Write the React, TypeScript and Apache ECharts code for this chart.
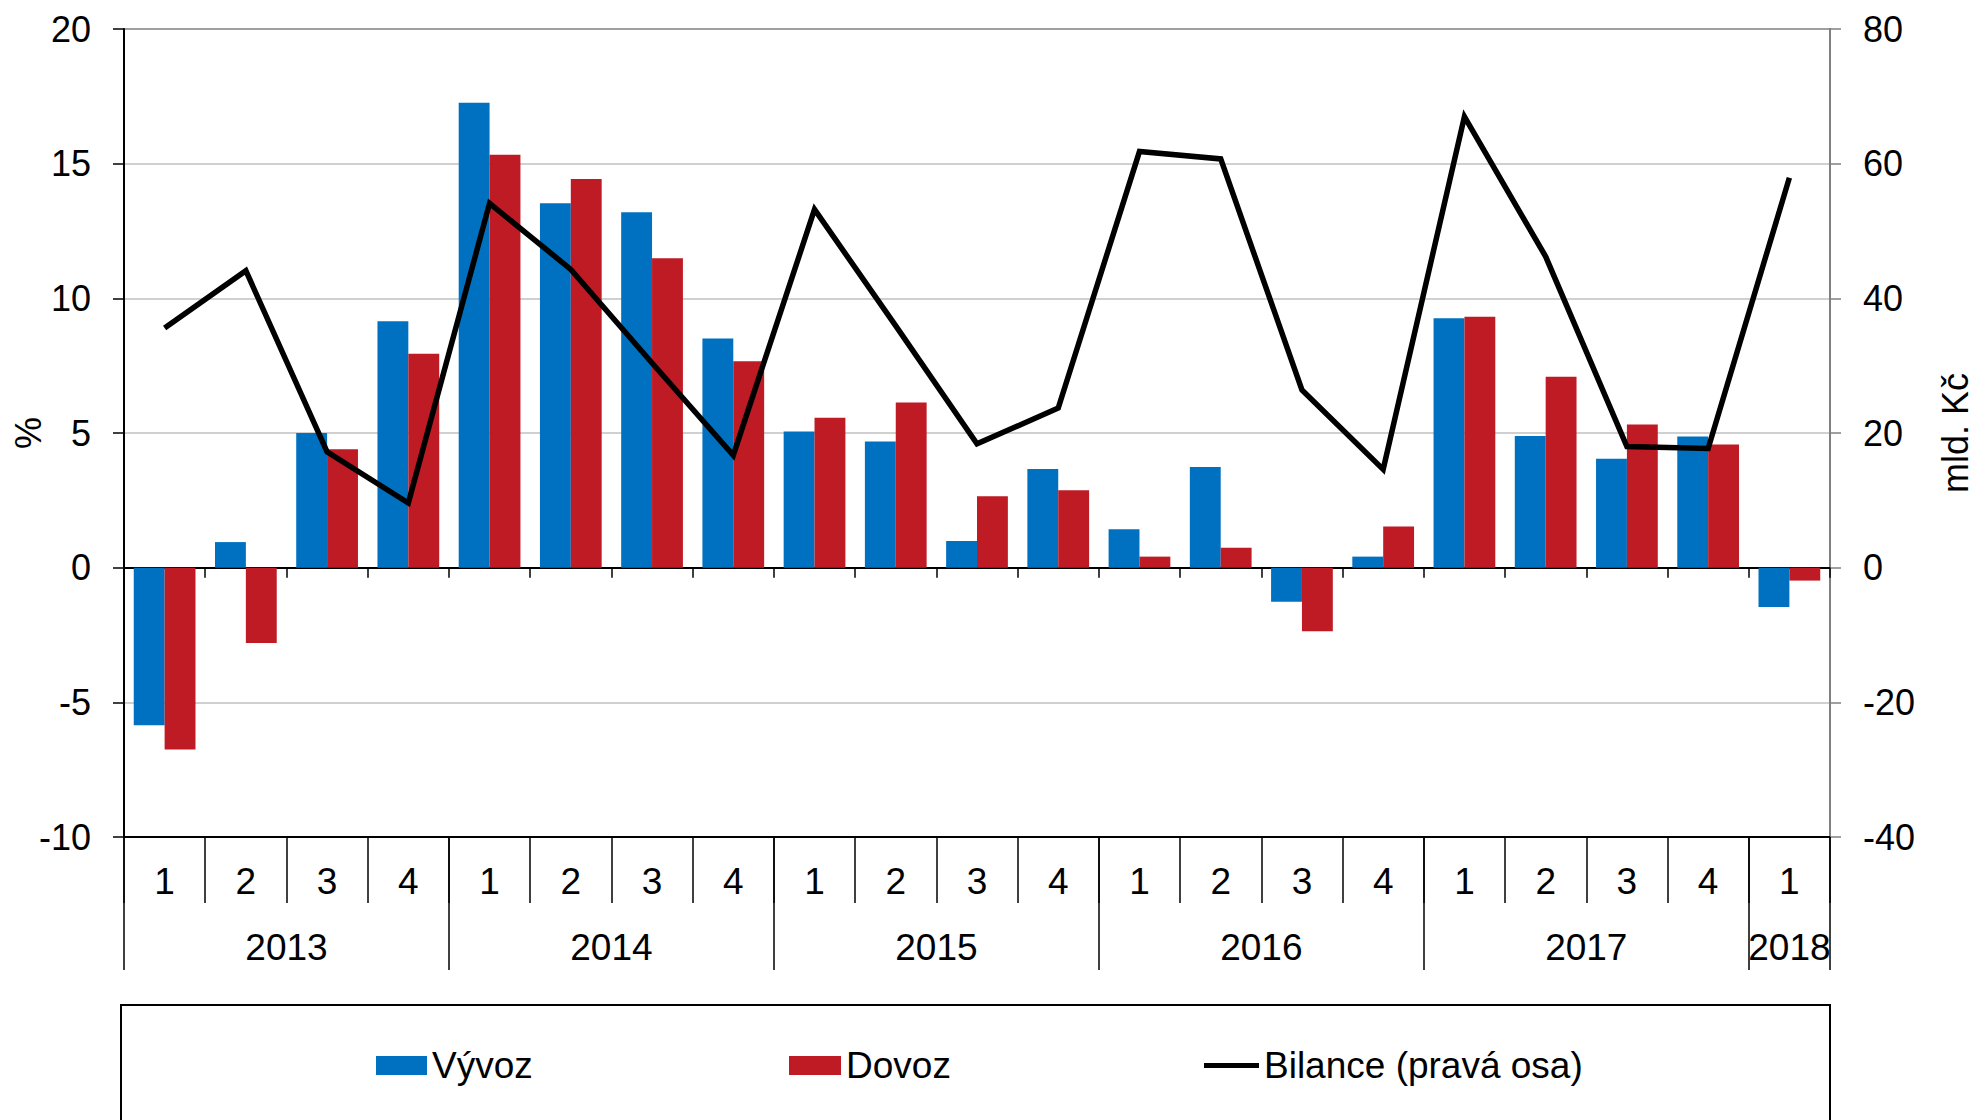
import React, { useEffect, useRef } from 'react';
import * as echarts from 'echarts';

const years = ['2013', '2014', '2015', '2016', '2017', '2018'];
const quartersPerYear = [4, 4, 4, 4, 4, 1];
const quarterLabels = ['1', '2', '3', '4'];

const vyvoz = [-5.85, 0.95, 5.0, 9.15, 17.26, 13.53, 13.2, 8.51, 5.06, 4.68, 0.99, 3.66, 1.43, 3.74, -1.27, 0.41, 9.26, 4.89, 4.04, 4.87, -1.46];
const dovoz = [-6.75, -2.8, 4.4, 7.94, 15.33, 14.43, 11.49, 7.66, 5.57, 6.13, 2.65, 2.87, 0.41, 0.74, -2.36, 1.53, 9.32, 7.09, 5.32, 4.57, -0.48];
const bilance = [35.6, 44.1, 17.2, 9.6, 54.1, 44.3, 30.4, 16.7, 53.2, 35.9, 18.4, 23.7, 61.8, 60.7, 26.4, 14.6, 67.0, 46.2, 18.0, 17.7, 57.9];

const leftAxis = { min: -10, max: 20, interval: 5, name: '%' };
const rightAxis = { min: -40, max: 80, interval: 20, name: 'mld. Kč' };

const seriesNames = ['Vývoz', 'Dovoz', 'Bilance (pravá osa)'];

const FONT = "'Liberation Sans', Arial, sans-serif";

export default function App() {
  const ref = useRef<HTMLDivElement>(null);
  useEffect(() => {
    const chart = echarts.init(ref.current!, null, { renderer: 'svg' });

    const categories: string[] = [];
    years.forEach((y, i) => {
      for (let q = 0; q < quartersPerYear[i]; q++) categories.push(y + ' ' + quarterLabels[q]);
    });
    const total = categories.length;
    const yearStarts: number[] = [];
    const yearCenters: Record<number, string> = {};
    let acc = 0;
    years.forEach((y, i) => {
      yearStarts.push(acc);
      yearCenters[Math.round((acc + quartersPerYear[i] / 2) * 2)] = y;
      acc += quartersPerYear[i];
    });

    const txt = { color: '#000', fontFamily: FONT, fontSize: 36 };
    const txt37 = { color: '#000', fontFamily: FONT, fontSize: 37 };

    const option: any = {
      animation: false,
      backgroundColor: '#fff',
      grid: {
        left: 124, top: 29, width: 1706, height: 808,
        outerBoundsMode: 'none', containLabel: false,
        show: true, borderColor: '#000', borderWidth: 1.5, backgroundColor: 'transparent',
      },
      xAxis: [
        {
          type: 'category', data: categories, position: 'bottom',
          axisLine: { show: true, onZero: true, onZeroAxisIndex: 0, lineStyle: { color: '#000', width: 2 } },
          axisTick: { show: true, length: 10, interval: 0, lineStyle: { color: '#000', width: 1.5 } },
          axisLabel: { show: false },
          splitLine: { show: false },
        },
        {
          type: 'category', data: categories, position: 'bottom',
          axisLine: { show: true, onZero: false, lineStyle: { color: '#000', width: 2 } },
          axisTick: { show: true, length: 66, interval: 0, lineStyle: { color: '#000', width: 1.5 } },
          axisLabel: { ...txt37, interval: 0, margin: 26, formatter: (v: string) => v.split(' ')[1] },
          splitLine: { show: false },
        },
        {
          type: 'category', data: categories, position: 'bottom',
          axisLine: { show: false, onZero: false },
          axisTick: { show: true, length: 133, interval: (idx: number) => yearStarts.indexOf(idx) >= 0, lineStyle: { color: '#000', width: 1.5 } },
          axisLabel: { show: false },
          splitLine: { show: false },
        },
        {
          type: 'value', min: 0, max: total, interval: 0.5, position: 'bottom',
          axisLine: { show: false, onZero: false },
          axisTick: { show: false },
          splitLine: { show: false },
          axisLabel: {
            ...txt37, margin: 92, showMinLabel: true, showMaxLabel: true,
            formatter: (v: number) => yearCenters[Math.round(v * 2)] || '',
          },
        },
      ],
      yAxis: [
        {
          type: 'value', min: leftAxis.min, max: leftAxis.max, interval: leftAxis.interval, position: 'left',
          name: leftAxis.name, nameLocation: 'middle', nameGap: 96, nameRotate: 90, nameMoveOverlap: false,
          nameTextStyle: { ...txt, align: 'center', verticalAlign: 'middle' },
          axisLine: { show: true, onZero: false, lineStyle: { color: '#000', width: 2 } },
          axisTick: { show: true, length: 11, lineStyle: { color: '#000', width: 1.5 } },
          axisLabel: { ...txt, margin: 33 },
          splitLine: { show: true, lineStyle: { color: '#c0c0c0', width: 1.5 } },
        },
        {
          type: 'value', min: rightAxis.min, max: rightAxis.max, interval: rightAxis.interval, position: 'right',
          name: rightAxis.name, nameLocation: 'middle', nameGap: 125, nameRotate: 90, nameMoveOverlap: false,
          nameTextStyle: { ...txt, align: 'center', verticalAlign: 'middle' },
          axisLine: { show: true, onZero: false, lineStyle: { color: '#808080', width: 2 } },
          axisTick: { show: true, length: 11, lineStyle: { color: '#808080', width: 1.5 } },
          axisLabel: { ...txt, margin: 33 },
          splitLine: { show: false },
        },
      ],
      legend: [
        {
          data: [{ name: seriesNames[0], icon: 'rect' }], left: 376, top: 1047, padding: 0,
          itemWidth: 51, itemHeight: 19, selectedMode: false, textStyle: { ...txt37 },
        },
        {
          data: [{ name: seriesNames[1], icon: 'rect' }], left: 789, top: 1047, padding: 0,
          itemWidth: 52, itemHeight: 19, selectedMode: false, textStyle: { ...txt37 },
        },
        {
          data: [{ name: seriesNames[2], icon: 'rect' }], left: 1204, top: 1047, padding: 0,
          itemWidth: 55, itemHeight: 5, selectedMode: false, textStyle: { ...txt37 },
        },
      ],
      graphic: [
        {
          type: 'rect', shape: { x: 121, y: 1005, width: 1709, height: 200 },
          style: { fill: 'none', stroke: '#000', lineWidth: 2 }, silent: true,
        },
      ],
      series: [
        {
          name: seriesNames[0], type: 'bar', xAxisIndex: 0, yAxisIndex: 0, data: vyvoz,
          barGap: '0%', barCategoryGap: '24%', itemStyle: { color: '#0070C0' },
        },
        {
          name: seriesNames[1], type: 'bar', xAxisIndex: 0, yAxisIndex: 0, data: dovoz,
          barGap: '0%', barCategoryGap: '24%', itemStyle: { color: '#BE1B24' },
        },
        {
          name: seriesNames[2], type: 'line', xAxisIndex: 0, yAxisIndex: 1, data: bilance,
          showSymbol: false, symbol: 'none', itemStyle: { color: '#000' },
          lineStyle: { color: '#000', width: 5.5, join: 'miter' }, z: 5,
        },
      ],
    };
    chart.setOption(option);
    return () => chart.dispose();
  }, []);
  return (
    <div
      ref={ref}
      style={{ position: 'fixed', left: 0, top: 0, width: 1977, height: 1120, background: '#fff' }}
    />
  );
}
